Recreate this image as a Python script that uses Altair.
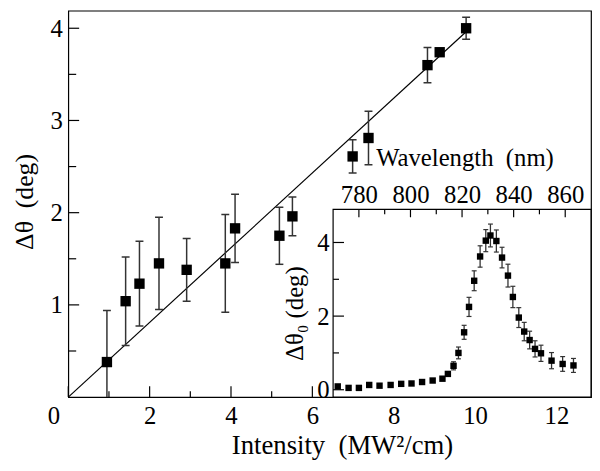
import altair as alt
import pandas as pd

# ---------------- data ----------------
main_x = [0.95, 1.41, 1.75, 2.23, 2.91, 3.86, 4.10, 5.19, 5.51, 6.99, 7.38, 8.83, 9.13, 9.78]
main_y = [0.38, 1.04, 1.23, 1.45, 1.38, 1.45, 1.83, 1.75, 1.96, 2.61, 2.81, 3.60, 3.74, 4.00]
main_err = [0.56, 0.48, 0.46, 0.50, 0.34, 0.53, 0.37, 0.31, 0.21, 0.18, 0.29, 0.19, 0.0, 0.12]

fit_x = [0.0, 9.80]
fit_y = [0.0, 3.97]

inset_wl = [771.8, 776.0, 780.0, 784.0, 788.0, 792.3, 796.4, 800.4, 804.5, 808.6, 812.4,
            814.5, 816.7, 818.6, 820.8, 822.7, 824.7, 827.0, 829.2, 831.0, 833.3, 835.5,
            837.8, 839.7, 842.0, 844.1, 846.2, 848.3, 850.6, 854.7, 859.0, 863.2]
inset_y = [0.09, 0.05, 0.05, 0.13, 0.11, 0.13, 0.16, 0.17, 0.21, 0.25, 0.30,
           0.43, 0.65, 1.00, 1.56, 2.25, 2.96, 3.62, 4.05, 4.19, 4.04, 3.59,
           3.10, 2.52, 1.96, 1.58, 1.35, 1.11, 0.99, 0.79, 0.70, 0.66]
inset_err = [0.04, 0.04, 0.04, 0.04, 0.04, 0.04, 0.04, 0.04, 0.04, 0.05, 0.05,
             0.06, 0.11, 0.16, 0.19, 0.26, 0.27, 0.29, 0.30, 0.31, 0.30, 0.28,
             0.31, 0.29, 0.27, 0.25, 0.24, 0.22, 0.22, 0.22, 0.20, 0.19]

main_x_major = [0, 2, 4, 6, 8, 10, 12]
main_x_minor = [1, 3, 5, 7, 9, 11]
main_y_major = [1, 2, 3, 4]
main_y_minor = [0.5, 1.5, 2.5, 3.5]
inset_x_major = [780, 800, 820, 840, 860]
inset_x_minor = [790, 810, 830, 850]
inset_y_major = [0, 2, 4]
inset_y_minor = [1, 3]

main_x_domain = [0, 12.85]
main_y_domain = [0, 4.19]
inset_x_domain = [770, 870]
inset_y_domain = [-0.2, 4.9]

x_title = "Intensity \u00a0(MW\u00b2/cm)"
y_title = "\u0394\u03b8 \u00a0(deg)"
ix_title = "Wavelength \u00a0(nm)"
iy_title = "\u0394\u03b8\u2080 (deg)"

# ---------------- layout ----------------
FONT = "Liberation Serif"
W, H = 529, 391
INSET_X_RANGE = [268, W]
INSET_Y_RANGE = [H, 201]
ERR_COLOR = "#333333"

xs = alt.Scale(domain=main_x_domain, nice=False, zero=False)
ys = alt.Scale(domain=main_y_domain, nice=False, zero=False)
ixs = alt.Scale(domain=inset_x_domain, range=INSET_X_RANGE, nice=False, zero=False)
iys = alt.Scale(domain=inset_y_domain, range=INSET_Y_RANGE, nice=False, zero=False)

common = dict(ticks=False, domain=False, grid=False, labelColor="black",
              titleColor="black", labelFlush=False)

x_axis = alt.Axis(orient="bottom", values=main_x_major, labelFontSize=25, labelPadding=7,
                  labelOffset={"condition": {"test": "datum.value === 0", "value": -15}, "value": 0},
                  title=x_title, titleFontSize=27, titleX=277, titleY=57,
                  titleBaseline="alphabetic", titleAlign="center", format="d", **common)
y_axis = alt.Axis(orient="left", values=main_y_major, labelFontSize=25, labelPadding=6,
                  labelBaseline="middle", title=y_title, titleFontSize=26, titleX=-44, titleY=193,
                  titleBaseline="middle", titleAlign="center", titleAngle=270, format="d", **common)
ix_axis = alt.Axis(orient="top", offset=-201, values=inset_x_major, labelFontSize=25, labelPadding=2,
                   title=ix_title, titleFontSize=25, titleX=401, titleY=-44,
                   titleBaseline="alphabetic", titleAlign="center", format="d", **common)
iy_axis = alt.Axis(orient="left", offset=-268, values=inset_y_major, labelFontSize=25, labelPadding=4,
                   labelBaseline="middle", title=iy_title, titleFontSize=25, titleX=-39, titleY=306,
                   titleBaseline="middle", titleAlign="center", titleAngle=270, format="d", **common)


def MX(f):
    return alt.X(f, type="quantitative", scale=xs, axis=x_axis)


def MY(f):
    return alt.Y(f, type="quantitative", scale=ys, axis=y_axis)


def IX(f):
    return alt.X(f, type="quantitative", scale=ixs, axis=ix_axis)


def IY(f):
    return alt.Y(f, type="quantitative", scale=iys, axis=iy_axis)


main_df = pd.DataFrame({"x": main_x, "y": main_y, "err": main_err})
main_df["lo"] = main_df["y"] - main_df["err"]
main_df["hi"] = main_df["y"] + main_df["err"]
main_err_df = main_df[main_df["err"] > 0]
fit_df = pd.DataFrame({"x": fit_x, "y": fit_y})

inset_df = pd.DataFrame({"x": inset_wl, "y": inset_y, "err": inset_err})
inset_df["lo"] = inset_df["y"] - inset_df["err"]
inset_df["hi"] = inset_df["y"] + inset_df["err"]
frame_df = pd.DataFrame({"x0": [inset_x_domain[0]], "x1": [inset_x_domain[1]],
                         "y0": [inset_y_domain[0]], "y1": [inset_y_domain[1]]})

# ---------------- main plot ----------------
fit_line = alt.Chart(fit_df).mark_line(color="black", strokeWidth=1.2).encode(x=MX("x"), y=MY("y"))
m_rules = alt.Chart(main_err_df).mark_rule(color=ERR_COLOR, strokeWidth=1.5, clip=True).encode(
    x=MX("x"), y=MY("lo"), y2="hi")
m_cap_hi = alt.Chart(main_err_df).mark_tick(orient="horizontal", size=8, thickness=1.5,
                                            color=ERR_COLOR, opacity=1, clip=True).encode(x=MX("x"), y=MY("hi"))
m_cap_lo = alt.Chart(main_err_df).mark_tick(orient="horizontal", size=8, thickness=1.5,
                                            color=ERR_COLOR, opacity=1, clip=True).encode(x=MX("x"), y=MY("lo"))
m_pts = alt.Chart(main_df).mark_square(size=110, color="black", opacity=1, filled=True).encode(
    x=MX("x"), y=MY("y"))


def vticks(vals, length, yval, scale_x, axis_x, scale_y, axis_y, down=False):
    df = pd.DataFrame({"v": vals})
    off = length / 2 if down else -length / 2
    return alt.Chart(df).mark_tick(orient="vertical", size=length, thickness=1.2, color="black",
                                   opacity=1, yOffset=off).encode(
        x=alt.X("v", type="quantitative", scale=scale_x, axis=axis_x),
        y=alt.YDatum(yval, scale=scale_y, axis=axis_y))


def hticks(vals, length, xval, scale_x, axis_x, scale_y, axis_y):
    df = pd.DataFrame({"v": vals})
    return alt.Chart(df).mark_tick(orient="horizontal", size=length, thickness=1.2, color="black",
                                   opacity=1, xOffset=length / 2).encode(
        y=alt.Y("v", type="quantitative", scale=scale_y, axis=axis_y),
        x=alt.XDatum(xval, scale=scale_x, axis=axis_x))


m_xt1 = vticks(main_x_major, 11, main_y_domain[0], xs, x_axis, ys, y_axis)
m_xt2 = vticks(main_x_minor, 6, main_y_domain[0], xs, x_axis, ys, y_axis)
m_yt1 = hticks(main_y_major, 11, main_x_domain[0], xs, x_axis, ys, y_axis)
m_yt2 = hticks(main_y_minor, 8, main_x_domain[0], xs, x_axis, ys, y_axis)

main_layer = alt.layer(m_xt1, m_xt2, m_yt1, m_yt2, fit_line, m_rules, m_cap_hi, m_cap_lo, m_pts)

# ---------------- inset ----------------
i_frame = alt.Chart(frame_df).mark_rect(fill="white", stroke="black", strokeWidth=1.2).encode(
    x=IX("x0"), x2="x1", y=IY("y0"), y2="y1")
i_rules = alt.Chart(inset_df).mark_rule(color=ERR_COLOR, strokeWidth=1.3).encode(
    x=IX("x"), y=IY("lo"), y2="hi")
i_cap_hi = alt.Chart(inset_df).mark_tick(orient="horizontal", size=5, thickness=1.2,
                                         color=ERR_COLOR, opacity=1).encode(x=IX("x"), y=IY("hi"))
i_cap_lo = alt.Chart(inset_df).mark_tick(orient="horizontal", size=5, thickness=1.2,
                                         color=ERR_COLOR, opacity=1).encode(x=IX("x"), y=IY("lo"))
i_pts = alt.Chart(inset_df).mark_square(size=42, color="black", opacity=1, filled=True).encode(
    x=IX("x"), y=IY("y"))
i_xt1 = vticks(inset_x_major, 8, inset_y_domain[1], ixs, ix_axis, iys, iy_axis, down=True)
i_xt2 = vticks(inset_x_minor, 5, inset_y_domain[1], ixs, ix_axis, iys, iy_axis, down=True)
i_yt1 = hticks(inset_y_major, 11, inset_x_domain[0], ixs, ix_axis, iys, iy_axis)
i_yt2 = hticks(inset_y_minor, 6, inset_x_domain[0], ixs, ix_axis, iys, iy_axis)

inset_layer = alt.layer(i_frame, i_xt1, i_xt2, i_yt1, i_yt2, i_rules, i_cap_hi, i_cap_lo, i_pts)

chart = alt.layer(main_layer, inset_layer).resolve_scale(
    x="independent", y="independent"
).properties(
    width=W, height=H, autosize="none",
    padding={"left": 61, "top": 0, "right": 1, "bottom": 70},
    background="white",
).configure(
    font=FONT
).configure_axis(
    labelFont=FONT, titleFont=FONT, titleFontWeight="normal"
).configure_view(stroke="black", strokeWidth=1.2)

chart.save("out.html", embed_options={"renderer": "svg", "actions": False})
